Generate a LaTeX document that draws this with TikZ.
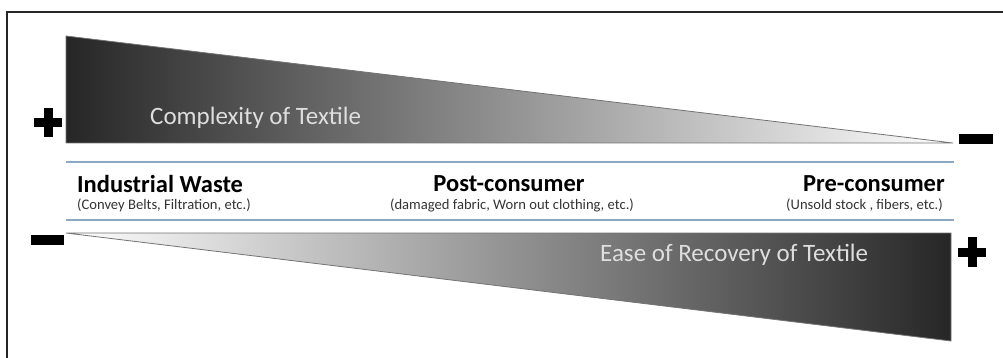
\documentclass[tikz,border=0pt]{standalone}
\usepackage{fontspec}
\setmainfont{Carlito}
\usetikzlibrary{calc}

\definecolor{rulecol}{RGB}{140,168,196}
\definecolor{signtext}{RGB}{222,222,222}

\tikzset{
  rowtitle/.style={font=\fontsize{24.5}{28}\selectfont\bfseries, inner sep=0pt},
  rowsub/.style={font=\fontsize{14.6}{17}\selectfont, text=black!80, inner sep=0pt},
  wedgetext/.style={font=\fontsize{25}{29}\selectfont, text=signtext, inner sep=0pt},
  bluerule/.style={draw=rulecol, line width=1.3pt}
}

\begin{document}
\begin{tikzpicture}[x=1pt,y=-1pt]
\useasboundingbox (0,0) rectangle (1003,358);

%================ FRAME ==================
\draw[line width=1.2pt, black!85] (7,358) -- (7,12) -- (1003,12);

%================ TOP WEDGE ==================
\begin{scope}
  \clip (66,36) -- (953,143) -- (66,143) -- cycle;
  \shade[left color=black!85, right color=white] (66,36) rectangle (953,143);
\end{scope}
\draw[black!55, line width=0.8pt] (66,36) -- (953,143) -- (66,143) -- cycle;
\node[wedgetext, anchor=west] (complexity) at (150,118) {Complexity of Textile};

% plus / minus
\fill (34,118) rectangle (62,127);
\fill (43.5,108) rectangle (52.5,137);
\fill (959,134) rectangle (993,144);

%================ BLUE RULES ==================
\draw[bluerule] (66,162) -- (954,162);
\draw[bluerule] (66,220) -- (954,220);

%================ CATEGORIES ==================
\node[rowtitle, anchor=west] (industrial) at (77,184) {Industrial Waste};
\node[rowsub, anchor=west] (industrialsub) at (77,205) {(Convey Belts, Filtration, etc.)};

\node[rowtitle] (post) at (509,184) {Post-consumer};
\node[rowsub] (postsub) at (512,205) {(damaged fabric, Worn out clothing, etc.)};

\node[rowtitle, anchor=east] (pre) at (945,184) {Pre-consumer};
\node[rowsub, anchor=east] (presub) at (943,205) {(Unsold stock , fibers, etc.)};

%================ BOTTOM WEDGE ==================
\begin{scope}
  \clip (66,233) -- (951,233) -- (951,341) -- cycle;
  \shade[left color=white, right color=black!85] (66,233) rectangle (951,341);
\end{scope}
\draw[black!55, line width=0.8pt] (66,233) -- (951,233) -- (951,341) -- cycle;
\node[wedgetext, anchor=west] (recovery) at (600,255) {Ease of Recovery of Textile};

% minus / plus
\fill (31,235) rectangle (64,245);
\fill (958,247.5) rectangle (986,256.5);
\fill (967.5,237) rectangle (976.5,267);

\end{tikzpicture}
\end{document}
